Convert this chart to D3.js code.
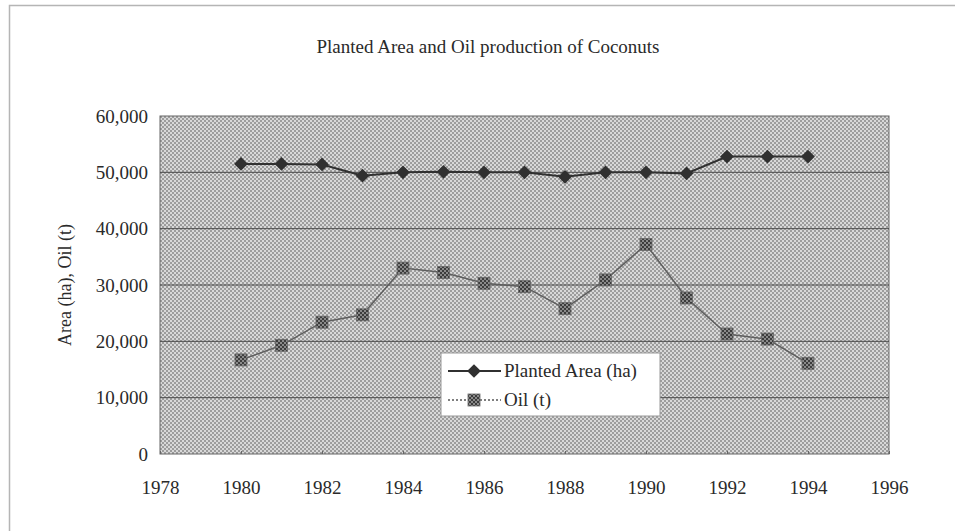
<!DOCTYPE html>
<html>
<head>
<meta charset="utf-8">
<script src="https://cdn.jsdelivr.net/npm/d3@7"></script>
<style>
  body { margin: 0; background: #fff; }
  text { font-family: "Liberation Serif", "DejaVu Serif", serif; fill: #2a2a2a; }
</style>
</head>
<body>
<svg id="chart"></svg>
<script>
var width = 955,
    height = 531;

var years = [1980, 1981, 1982, 1983, 1984, 1985, 1986, 1987, 1988, 1989, 1990, 1991, 1992, 1993, 1994];
var plantedArea = [51500, 51500, 51400, 49400, 50000, 50100, 50000, 50000, 49200, 50000, 50000, 49800, 52800, 52800, 52800];
var oil = [16700, 19300, 23400, 24700, 33000, 32200, 30300, 29700, 25800, 30900, 37200, 27700, 21300, 20400, 16100];
var xTicks = [1978, 1980, 1982, 1984, 1986, 1988, 1990, 1992, 1994, 1996];
var yTicks = [0, 10000, 20000, 30000, 40000, 50000, 60000];

var margin = {top: 116, right: 66, bottom: 77, left: 160};

var svg = d3.select('#chart')
            .attr('width', width)
            .attr('height', height);

var defs = svg.append('defs');
// halftone background of the plot area
var bg = defs.append('pattern')
    .attr('id', 'dots')
    .attr('width', 4).attr('height', 4)
    .attr('patternUnits', 'userSpaceOnUse');
bg.append('rect').attr('width', 4).attr('height', 4).attr('fill', '#d8d8d8');
bg.append('rect').attr('x', 0).attr('y', 0).attr('width', 2).attr('height', 2).attr('fill', '#9c9c9c');
bg.append('rect').attr('x', 2).attr('y', 2).attr('width', 2).attr('height', 2).attr('fill', '#9c9c9c');

// checkered fill for the oil markers
var chk = defs.append('pattern')
    .attr('id', 'checks')
    .attr('width', 4).attr('height', 4)
    .attr('patternUnits', 'userSpaceOnUse');
chk.append('rect').attr('width', 4).attr('height', 4).attr('fill', '#8a8a8a');
chk.append('rect').attr('width', 2).attr('height', 2).attr('fill', '#3c3c3c');
chk.append('rect').attr('x', 2).attr('y', 2).attr('width', 2).attr('height', 2).attr('fill', '#3c3c3c');

// outer frame (only top and left edges show)
svg.append('path')
    .attr('d', 'M9.5,531V5.5H955')
    .attr('fill', 'none')
    .attr('stroke', '#b5b5b5')
    .attr('stroke-width', 1.5);

var x = d3.scaleLinear()
    .domain([1978, 1996])
    .range([margin.left, width - margin.right]);

var y = d3.scaleLinear()
    .domain([0, 60000])
    .range([height - margin.bottom, margin.top]);

svg.append('rect')
    .attr('x', x(1978)).attr('y', y(60000))
    .attr('width', x(1996) - x(1978))
    .attr('height', y(0) - y(60000))
    .attr('fill', 'url(#dots)')
    .attr('stroke', '#666');

// gridlines
svg.append('g')
    .selectAll('line')
    .data(yTicks.slice(1, -1))
    .enter()
    .append('line')
      .attr('x1', x(1978)).attr('x2', x(1996))
      .attr('y1', d => y(d)).attr('y2', d => y(d))
      .attr('stroke', '#4a4a4a')
      .attr('stroke-width', 1);

var yAxis = svg.append('g')
    .attr('transform', 'translate(' + x(1978) + ',0)')
    .call(d3.axisLeft(y).tickValues(yTicks).tickSize(0).tickPadding(12).tickFormat(d3.format(',')));
yAxis.select('.domain').remove();
yAxis.selectAll('text').style('font-size', '19px').style('font-family', '"Liberation Serif", serif');

var xAxis = svg.append('g')
    .attr('transform', 'translate(0,' + y(0) + ')')
    .call(d3.axisBottom(x).tickValues(xTicks).tickSizeInner(-3).tickSizeOuter(0).tickPadding(27).tickFormat(d3.format('d')));
xAxis.select('.domain').remove();
xAxis.selectAll('line').attr('stroke', '#666');
xAxis.selectAll('text').style('font-size', '19px').style('font-family', '"Liberation Serif", serif');

svg.append('text')
    .attr('x', 488).attr('y', 53)
    .style('font-size', '19px')
    .style('text-anchor', 'middle')
    .text('Planted Area and Oil production of Coconuts');

svg.append('text')
    .attr('transform', 'translate(71,' + (y(30000)) + ') rotate(-90)')
    .style('font-size', '18px')
    .style('text-anchor', 'middle')
    .text('Area (ha), Oil (t)');

var line = d3.line()
    .x(d => x(d[0]))
    .y(d => y(d[1]));

var areaPts = years.map((d, i) => [d, plantedArea[i]]);
var oilPts = years.map((d, i) => [d, oil[i]]);

svg.append('path')
    .datum(oilPts)
    .attr('d', line)
    .attr('fill', 'none')
    .attr('stroke', '#5e5e5e')
    .attr('stroke-width', 1.5);

svg.append('g')
    .selectAll('rect')
    .data(oilPts)
    .enter()
    .append('rect')
      .attr('x', d => x(d[0]) - 6)
      .attr('y', d => y(d[1]) - 6)
      .attr('width', 12).attr('height', 12)
      .attr('fill', 'url(#checks)')
      .attr('stroke', '#666')
      .attr('stroke-width', 0.8);

svg.append('path')
    .datum(areaPts)
    .attr('d', line)
    .attr('fill', 'none')
    .attr('stroke', '#303030')
    .attr('stroke-width', 2);

var diamond = d3.symbol().type(d3.symbolDiamond2).size(120);

svg.append('g')
    .selectAll('path')
    .data(areaPts)
    .enter()
    .append('path')
      .attr('transform', d => 'translate(' + x(d[0]) + ',' + y(d[1]) + ')')
      .attr('d', diamond)
      .attr('fill', '#303030');

// legend
var legend = svg.append('g').attr('transform', 'translate(441,353)');
legend.append('rect')
    .attr('width', 219).attr('height', 63)
    .attr('fill', '#fff')
    .attr('stroke', '#999');
legend.append('line')
    .attr('x1', 7).attr('x2', 60).attr('y1', 18).attr('y2', 18)
    .attr('stroke', '#303030').attr('stroke-width', 2);
legend.append('path')
    .attr('transform', 'translate(33,18)')
    .attr('d', diamond)
    .attr('fill', '#303030');
legend.append('text')
    .attr('x', 63).attr('y', 24)
    .style('font-size', '19px')
    .text('Planted Area (ha)');
legend.append('line')
    .attr('x1', 7).attr('x2', 60).attr('y1', 47).attr('y2', 47)
    .attr('stroke', '#555').attr('stroke-width', 1.5)
    .attr('stroke-dasharray', '2,2');
legend.append('rect')
    .attr('x', 27).attr('y', 41)
    .attr('width', 12).attr('height', 12)
    .attr('fill', 'url(#checks)')
    .attr('stroke', '#666')
    .attr('stroke-width', 0.8);
legend.append('text')
    .attr('x', 63).attr('y', 53)
    .style('font-size', '19px')
    .text('Oil (t)');
</script>
</body>
</html>
